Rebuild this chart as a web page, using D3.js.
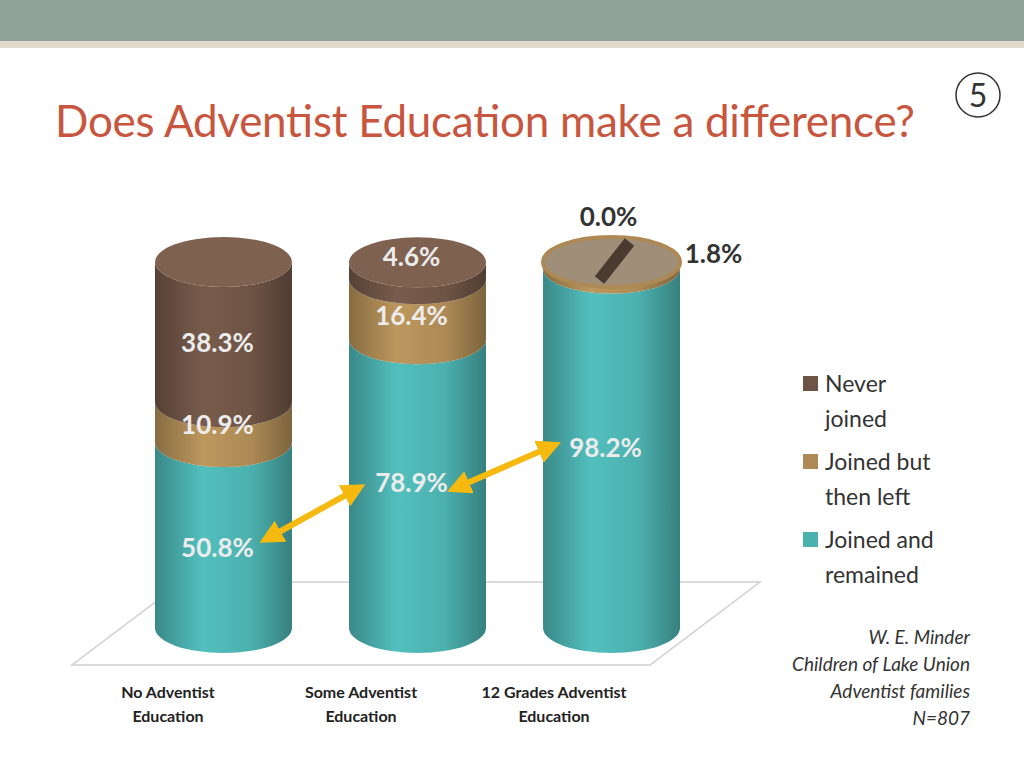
<!DOCTYPE html>
<html><head><meta charset="utf-8">
<script src="https://cdn.jsdelivr.net/npm/d3@7"></script>
<style>body{margin:0;background:#fff}svg{display:block}</style>
</head><body>
<svg id="chart" width="1024" height="768"></svg>
<script>
const categories = [["No Adventist", "Education"], ["Some Adventist", "Education"], ["12 Grades Adventist", "Education"]];
const remained = [50.8, 78.9, 98.2];
const leftChurch = [10.9, 16.4, 1.8];
const neverJoined = [38.3, 4.6, 0.0];
const legendLabels = [["Never", "joined"], ["Joined but", "then left"], ["Joined and", "remained"]];
const sourceLines = ["W. E. Minder", "Children of Lake Union", "Adventist families", "N=807"];

const svg = d3.select("#chart");
const font = "Lato, 'Open Sans', sans-serif";

// header band
svg.append("rect").attr("x", 0).attr("y", 0).attr("width", 1024).attr("height", 41).attr("fill", "#8fa39a");
svg.append("rect").attr("x", 0).attr("y", 41).attr("width", 1024).attr("height", 7).attr("fill", "#e2dace");

svg.append("text").attr("x", 55).attr("y", 137).attr("fill", "#c8553d")
  .attr("font-family", font).attr("font-size", 44).attr("textLength", 860)
  .text("Does Adventist Education make a difference?");
svg.append("circle").attr("cx", 978).attr("cy", 95).attr("r", 22).attr("fill", "none").attr("stroke", "#333").attr("stroke-width", 1.5);
svg.append("text").attr("x", 978).attr("y", 107).attr("text-anchor", "middle").attr("font-family", font).attr("font-size", 32).attr("fill", "#333").text("5");

// floor
svg.append("path").attr("d", "M72,665 L650,665 L760,582 L182,582 Z").attr("fill", "#fff").attr("stroke", "#cfcfcf").attr("stroke-width", 1.5);

const x = d3.scaleBand().domain(d3.range(3)).range([155, 680]).paddingInner(0.294).paddingOuter(0);
const y = d3.scaleLinear().domain([0, 100]).range([628, 262]);
const rx = x.bandwidth() / 2, ry = 25;

const defs = svg.append("defs");
const colors = {remain: "#4bb0ae", left: "#ad8a55", never: "#6e5445"};
Object.entries(colors).forEach(([k, c]) => {
  const g = defs.append("linearGradient").attr("id", "g_" + k);
  const cc = d3.color(c);
  [[0, cc.darker(0.7)], [0.35, cc.brighter(0.25)], [0.7, cc], [1, cc.darker(0.9)]]
    .forEach(([o, col]) => g.append("stop").attr("offset", o).attr("stop-color", col));
});

function segment(cx, v0, v1, key) {
  const y0 = y(v0), y1 = y(v1);
  svg.append("path")
    .attr("d", `M${cx - rx},${y1} L${cx - rx},${y0} A${rx},${ry} 0 0 0 ${cx + rx},${y0} L${cx + rx},${y1} A${rx},${ry} 0 0 1 ${cx - rx},${y1} Z`)
    .attr("fill", `url(#g_${key})`);
}

d3.range(3).forEach(i => {
  const cx = x(i) + rx;
  const a = remained[i], b = a + leftChurch[i], c = b + neverJoined[i];
  segment(cx, 0, a, "remain");
  segment(cx, a, b, "left");
  if (neverJoined[i] > 0) segment(cx, b, c, "never");
  const topKey = neverJoined[i] > 0 ? "never" : "left";
  svg.append("ellipse").attr("cx", cx).attr("cy", y(c)).attr("rx", rx).attr("ry", ry)
    .attr("fill", neverJoined[i] > 0 ? d3.color(colors[topKey]).brighter(0.4) : "#a08f78")
    .attr("stroke", neverJoined[i] > 0 ? "none" : colors.left).attr("stroke-width", 4);
  if (neverJoined[i] === 0) {
    svg.append("line").attr("x1", cx - 12).attr("y1", y(c) + 18).attr("x2", cx + 18).attr("y2", y(c) - 20)
      .attr("stroke", "#4a3a30").attr("stroke-width", 12);
  }
  // labels
  const lab = (txt, yy, fill, xx) => svg.append("text").attr("x", xx ?? cx - 6).attr("y", yy)
    .attr("text-anchor", "middle").attr("font-family", font).attr("font-weight", "bold")
    .attr("font-size", 26).attr("fill", fill).text(txt);
  const light = "#ececec";
  lab(remained[i].toFixed(1) + "%", i === 2 ? y(a) + 188 : (y(a) + y(0)) / 2 + (i === 0 ? 22 : 8), light);
  if (i < 2) {
    lab(leftChurch[i].toFixed(1) + "%", y(b) + (i === 0 ? 32 : 46), light);
    lab(neverJoined[i].toFixed(1) + "%", i === 0 ? (y(b) + y(c)) / 2 + 20 : y(c) + 4, light);
  } else {
    lab(neverJoined[i].toFixed(1) + "%", y(c) - 36, "#333", cx - 3);
    lab(leftChurch[i].toFixed(1) + "%", y(c) + 1, "#333", cx + 102);
  }
  categories[i].forEach((t, j) => svg.append("text")
    .attr("x", 168 + i * 193).attr("y", 698 + j * 24).attr("text-anchor", "middle")
    .attr("font-family", font).attr("font-weight", "bold").attr("font-size", 16).attr("fill", "#222").text(t));
});

// arrows
const arrowColor = "#f5b90f";
defs.append("marker").attr("id", "ah").attr("viewBox", "0 0 10 10").attr("refX", 5).attr("refY", 5)
  .attr("markerWidth", 4).attr("markerHeight", 4).attr("orient", "auto-start-reverse")
  .append("path").attr("d", "M0,0 L10,5 L0,10 Z").attr("fill", arrowColor);
[[270, 537, 355, 490], [458, 487, 550, 447]].forEach(([x1, y1, x2, y2]) => {
  svg.append("line").attr("x1", x1).attr("y1", y1).attr("x2", x2).attr("y2", y2)
    .attr("stroke", arrowColor).attr("stroke-width", 6)
    .attr("marker-start", "url(#ah)").attr("marker-end", "url(#ah)");
});

// legend
const legendColors = [colors.never, colors.left, colors.remain];
legendLabels.forEach((ls, i) => {
  const yy = 376 + i * 78;
  svg.append("rect").attr("x", 803).attr("y", yy).attr("width", 15).attr("height", 15).attr("fill", legendColors[i]);
  ls.forEach((t, j) => svg.append("text").attr("x", 825).attr("y", yy + 16 + j * 35)
    .attr("font-family", font).attr("font-size", 23).attr("fill", "#333").text(t));
});

sourceLines.forEach((t, i) => svg.append("text").attr("x", 970).attr("y", 644 + i * 27)
  .attr("text-anchor", "end").attr("font-family", font).attr("font-style", "italic")
  .attr("font-size", 19).attr("fill", "#333").text(t));
</script>
</body></html>
